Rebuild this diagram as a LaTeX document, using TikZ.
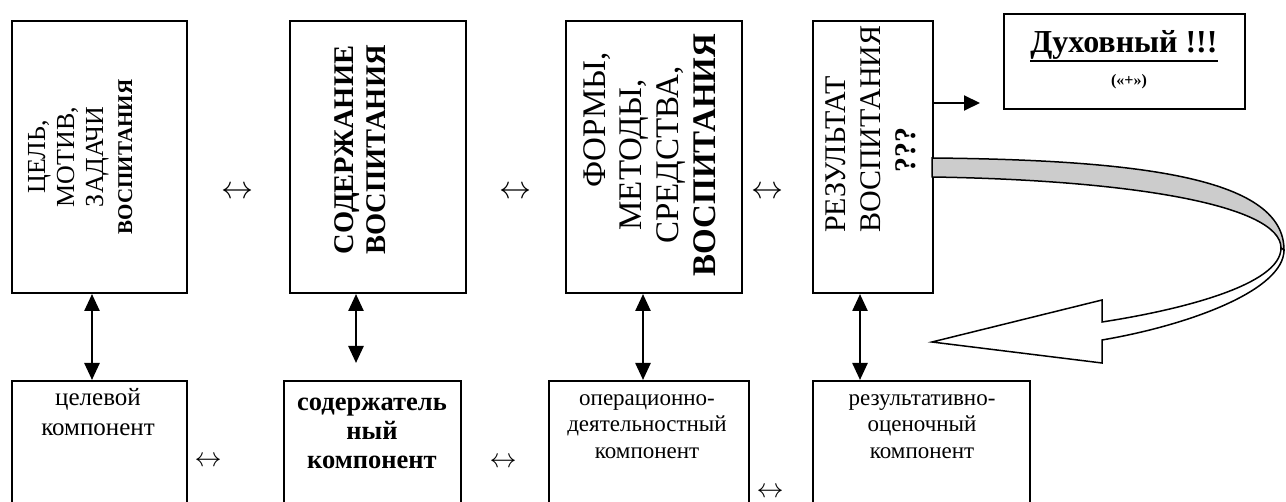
\documentclass[tikz,border=0pt]{standalone}
\usepackage{fontspec}
\setmainfont{Liberation Serif}
\usetikzlibrary{arrows.meta}
\newcommand{\thickul}[1]{\vtop{\hbox{#1}\kern0.5pt\hrule height 2pt}}
\newcommand{\bigLR}[1]{\resizebox{#1}{!}{$\leftrightarrow$}}
\tikzset{
  box/.style={draw, line width=2pt, inner sep=0pt, anchor=north west},
  vtext/.style={rotate=90, inner sep=0pt},
  htext/.style={inner sep=0pt, anchor=north, align=center},
  dbl/.style={line width=2.5pt, {Triangle[length=17pt,width=15pt]}-{Triangle[length=17pt,width=15pt]}},
  harr/.style={line width=2pt, -{Triangle[length=16pt,width=15pt]}},
  sym/.style={inner sep=0pt},
  ribbon/.style={draw, line width=1.5pt, line join=miter},
}
\begin{document}
\begin{tikzpicture}[x=1pt,y=-1pt]
\useasboundingbox (0,0) rectangle (1286,502);
\clip (0,0) rectangle (1286,502);
\fill[white] (0,0) rectangle (1286,502);
% top boxes
\node[box, minimum width=175pt, minimum height=272pt] (b1) at (11,20) {};
\node[box, minimum width=176pt, minimum height=272pt] (b2) at (289,20) {};
\node[box, minimum width=176pt, minimum height=272pt] (b3) at (565,20) {};
\node[box, minimum width=120pt, minimum height=272pt] (b4) at (812,20) {};
\node[box, minimum width=241pt, minimum height=95pt] (bd) at (1003,13) {};
% bottom boxes
\node[box, minimum width=175pt, minimum height=150pt] (b5) at (11,380) {};
\node[box, minimum width=177pt, minimum height=150pt] (b6) at (283,380) {};
\node[box, minimum width=200pt, minimum height=150pt] (b7) at (548,380) {};
\node[box, minimum width=217pt, minimum height=150pt] (b8) at (812,380) {};
% rotated texts
\node[vtext, anchor=north, align=center, font=\fontsize{26}{29}\selectfont] (t1) at (24.7,157)
  {\strut ЦЕЛЬ,\\ МОТИВ,\\ ЗАДАЧИ\\ {\fontsize{21}{29}\selectfont\bfseries ВОСПИТАНИЯ}};
\node[vtext, anchor=north, align=center, font=\fontsize{28.5}{32}\selectfont\bfseries] (t2) at (330.6,150)
  {\strut СОДЕРЖАНИЕ\\ ВОСПИТАНИЯ};
\node[vtext, anchor=north, align=center, font=\fontsize{33}{36.7}\selectfont] (t3) at (579.3,155)
  {\strut\hspace*{70pt}ФОРМЫ,\\ МЕТОДЫ,\\ СРЕДСТВА,\\ \textbf{ВОСПИТАНИЯ}};
\node[vtext, anchor=north west, align=left, font=\fontsize{30}{35}\selectfont] (t4) at (820.5,233)
  {\strut РЕЗУЛЬТАТ\\ ВОСПИТАНИЯ\\ \hspace*{60pt}\textbf{???}};
% box D texts
\node[anchor=base, inner sep=0pt, font=\fontsize{32}{38}\selectfont\bfseries] (dt) at (1124,53) {\thickul{Духовный !!!}};
\node[anchor=base, inner sep=0pt, font=\fontsize{16}{19}\selectfont\bfseries] (ds) at (1129,86) {(«+»)};
% bottom texts
\node[htext, font=\fontsize{25}{30}\selectfont] (t5) at (98,384) {\strut целевой\\ компонент};
\node[htext, font=\fontsize{26.5}{29}\selectfont\bfseries] (t6) at (372,389.7) {\strut содержатель\\ ный\\ компонент};
\node[htext, font=\fontsize{23}{26.5}\selectfont] (t7) at (647,386.5) {\strut операционно-\\ деятельностный\\ компонент};
\node[htext, font=\fontsize{23}{26.5}\selectfont] (t8) at (922,386.5) {\strut результативно-\\ оценочный\\ компонент};
% double-headed symbols
\node[sym] (h1) at (237,193) {\bigLR{32pt}};
\node[sym] (h2) at (515,193) {\bigLR{32pt}};
\node[sym] (h3) at (767,193) {\bigLR{32pt}};
\node[sym] (h4) at (208,462) {\bigLR{27pt}};
\node[sym] (h5) at (503,463) {\bigLR{27pt}};
\node[sym] (h6) at (770,493) {\bigLR{27pt}};
% vertical connectors
\draw[dbl] ([xshift=81pt]b1.south west) -- ([xshift=81pt]b5.north west);
\draw[dbl] ([xshift=67pt]b2.south west) -- ([xshift=73pt,yshift=17pt]b6.north west);
\draw[dbl] ([xshift=78pt]b3.south west) -- ([xshift=95pt]b7.north west);
\draw[dbl] ([xshift=48pt]b4.south west) -- ([xshift=48pt]b8.north west);
% arrow to D
\coordinate (dend) at (980,103);
\draw[harr] ([yshift=-83pt]b4.north east) -- (dend);
% curved ribbon arrow
\path[ribbon, fill=black!20] (932,158) .. controls (1150,160) and (1284,180) .. (1284,250)
  -- (1281,248) .. controls (1281,205) and (1130,180) .. (932,177) -- cycle;
\path[ribbon, fill=white] (1281,248) .. controls (1281,285) and (1180,310) .. (1102,322)
  -- (1102,300) -- (932,342) -- (1102,363) -- (1102,340)
  .. controls (1190,325) and (1284,290) .. (1284,250) -- cycle;
\end{tikzpicture}
\end{document}
